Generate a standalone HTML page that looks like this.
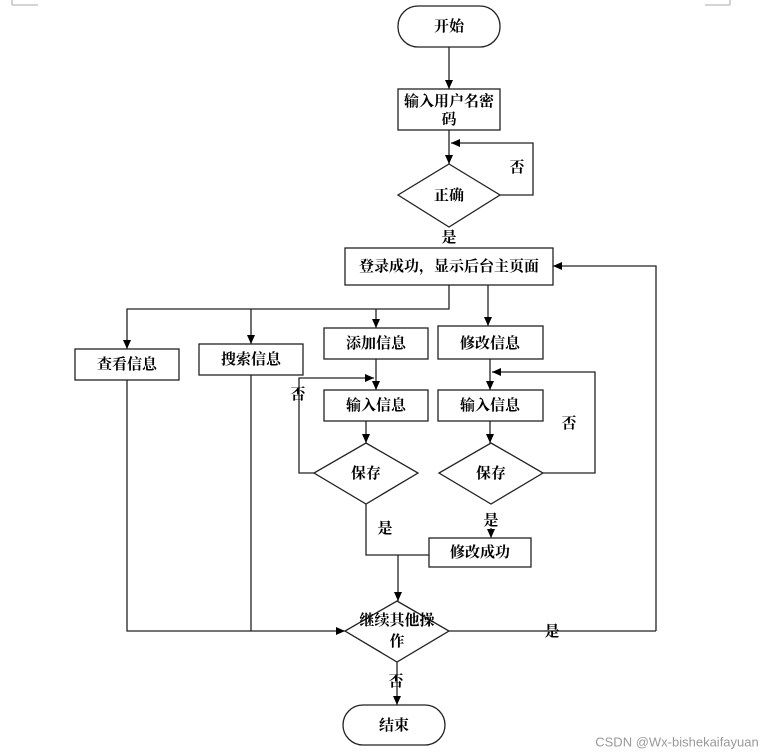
<!DOCTYPE html>
<html><head><meta charset="utf-8"><style>
html,body{margin:0;padding:0;background:#fff;}
svg{display:block}
text{font-family:"Liberation Serif","Noto Serif CJK SC",serif;font-size:15px;font-weight:bold;fill:#000;text-anchor:middle;dominant-baseline:central}
.s{fill:#fff;stroke:#222;stroke-width:1.3}
.l{fill:none;stroke:#222;stroke-width:1.3}
</style></head><body>
<svg width="775" height="755" viewBox="0 0 775 755">
<defs><marker id="a" markerWidth="10" markerHeight="10" refX="9" refY="5" orient="auto" markerUnits="userSpaceOnUse"><path d="M0,1 L9,5 L0,9 z" fill="#000"/></marker></defs>
<path class="l" d="M12,5 H38 M12,0 V5 M705,5 H730 M730,0 V5" style="stroke:#bbb"/>
<g transform="translate(0,1)">
<rect class="s" x="398" y="6" width="102" height="41" rx="20" transform="translate(0,-1)"/>
<text x="449" y="26">开始</text>
</g>
<path class="l" d="M449,47 V89" marker-end="url(#a)"/>
<rect class="s" x="398" y="89" width="102" height="41"/>
<text x="449" y="102">输入用户名密</text>
<text x="449" y="120">码</text>
<path class="l" d="M449,130 V164" marker-end="url(#a)"/>
<path class="l" d="M500,195 H533 V143 H451" marker-end="url(#a)"/>
<text x="517" y="168">否</text>
<path class="s" d="M449,164 L500,195 L449,227 L398,195 Z"/>
<text x="449" y="196">正确</text>
<text x="449" y="238">是</text>
<rect class="s" x="345" y="248" width="208" height="37"/>
<text x="449" y="267">登录成功，显示后台主页面</text>
<path class="l" d="M656,631 V266 H553" marker-end="url(#a)"/>
<path class="l" d="M449,285 V309 H127 V349" marker-end="url(#a)"/>
<path class="l" d="M251,309 V344" marker-end="url(#a)"/>
<path class="l" d="M376,309 V328" marker-end="url(#a)"/>
<path class="l" d="M488,285 V326" marker-end="url(#a)"/>
<rect class="s" x="75" y="349" width="104" height="31"/><text x="127" y="365">查看信息</text>
<rect class="s" x="199" y="344" width="104" height="31"/><text x="251" y="360">搜索信息</text>
<rect class="s" x="324" y="328" width="104" height="31"/><text x="376" y="344">添加信息</text>
<rect class="s" x="438" y="326" width="105" height="33"/><text x="490" y="344">修改信息</text>
<path class="l" d="M376,359 V390" marker-end="url(#a)"/>
<path class="l" d="M490,359 V390" marker-end="url(#a)"/>
<rect class="s" x="324" y="390" width="104" height="31"/><text x="376" y="406">输入信息</text>
<rect class="s" x="438" y="390" width="105" height="31"/><text x="490" y="406">输入信息</text>
<path class="l" d="M366,421 V443" marker-end="url(#a)"/>
<path class="l" d="M490,421 V443" marker-end="url(#a)"/>
<path class="l" d="M314,473 H299 V378 H374" marker-end="url(#a)"/>
<text x="298" y="395">否</text>
<path class="l" d="M543,473 H595 V372 H492" marker-end="url(#a)"/>
<text x="569" y="424">否</text>
<path class="s" d="M366,443 L418,473 L366,504 L314,473 Z"/><text x="366" y="474">保存</text>
<path class="s" d="M491,443 L543,473 L491,504 L439,473 Z"/><text x="491" y="474">保存</text>
<text x="385" y="529">是</text>
<text x="491" y="521">是</text>
<path class="l" d="M491,528 V538" marker-end="url(#a)"/>
<rect class="s" x="429" y="538" width="102" height="29"/><text x="480" y="553">修改成功</text>
<path class="l" d="M366,504 V555 H429"/>
<path class="l" d="M398,555 V601" marker-end="url(#a)"/>
<path class="l" d="M127,380 V631 H345" marker-end="url(#a)"/>
<path class="l" d="M251,375 V631"/>
<path class="l" d="M449,631 H656"/>
<text x="552" y="632">是</text>
<path class="s" d="M397,601 L449,631 L397,662 L345,631 Z"/>
<text x="397" y="621">继续其他操</text>
<text x="397" y="642">作</text>
<path class="l" d="M397,662 V705" marker-end="url(#a)"/>
<text x="396" y="682">否</text>
<rect class="s" x="343" y="705" width="102" height="40" rx="20"/>
<text x="394" y="726">结束</text>
<text x="677" y="742" style="font-family:'Liberation Sans',sans-serif;font-weight:normal;font-size:13px;fill:#999">CSDN @Wx-bishekaifayuan</text>
</svg>
</body></html>
